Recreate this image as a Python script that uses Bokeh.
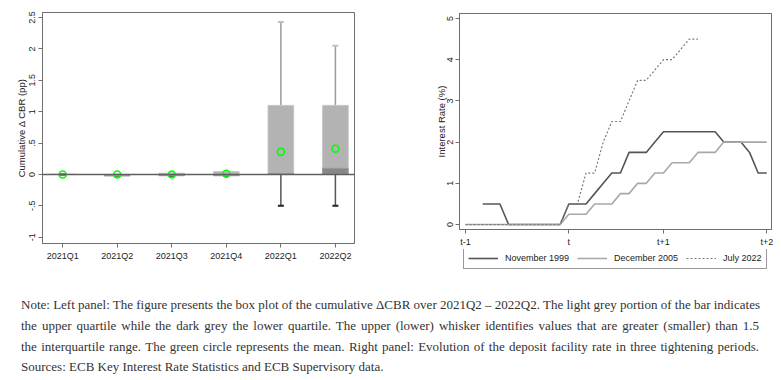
from bokeh.plotting import figure
from bokeh.models import Range1d, FixedTicker, Legend, LegendItem, Div, ColumnDataSource, Span
from bokeh.layouts import column, row
from bokeh.embed import file_html
from bokeh.resources import INLINE

# ---------------- Left panel data (box plot of cumulative delta CBR) ----------------
categories = ["2021Q1", "2021Q2", "2021Q3", "2021Q4", "2022Q1", "2022Q2"]
q1 = [0.0, -0.02, -0.02, -0.02, 0.0, 0.0]
median = [0.0, -0.02, 0.0, 0.0, 0.015, 0.10]
q3 = [0.0, 0.0, 0.02, 0.045, 1.10, 1.10]
lower_whisker = [0.0, -0.02, -0.02, -0.02, -0.50, -0.50]
upper_whisker = [0.0, 0.0, 0.02, 0.045, 2.43, 2.05]
mean = [0.0, 0.0, 0.0, 0.01, 0.36, 0.41]
left_y_ticks = [-1, -0.5, 0, 0.5, 1, 1.5, 2, 2.5]
left_y_labels = ["-1", "-.5", "0", ".5", "1", "1.5", "2", "2.5"]

# ---------------- Right panel data (deposit facility rate, change in pp) ----------------
nov1999_month = list(range(2, 36))
nov1999 = [0.5, 0.5, 0.5, 0, 0, 0, 0, 0, 0, 0, 0.5, 0.5, 0.5, 0.75, 1.0, 1.25, 1.25,
           1.75, 1.75, 1.75, 2.0, 2.25, 2.25, 2.25, 2.25, 2.25, 2.25, 2.25, 2.0, 2.0, 2.0,
           1.75, 1.25, 1.25]
dec2005_month = list(range(0, 36))
dec2005 = [0] * 12 + [0.25, 0.25, 0.25, 0.5, 0.5, 0.5, 0.75, 0.75, 1.0, 1.0, 1.25, 1.25,
                      1.5, 1.5, 1.5, 1.75, 1.75, 1.75, 2.0, 2.0, 2.0, 2.0, 2.0, 2.0]
jul2022_month = list(range(0, 28))
jul2022 = [0] * 12 + [0.5, 0.5, 1.25, 1.25, 2.0, 2.5, 2.5, 3.0, 3.5, 3.5, 3.75, 4.0, 4.0,
                      4.25, 4.5, 4.5]
right_x_ticks = [0, 12, 23, 35]
right_x_labels = ["t-1", "t", "t+1", "t+2"]
right_y_ticks = [0, 1, 2, 3, 4, 5]
right_y_labels = ["0", "1", "2", "3", "4", "5"]
series_names = ["November 1999", "December 2005", "July 2022"]
series_colors = ["#555555", "#a8a8a8", "#7a7a7a"]
series_widths = [1.6, 1.6, 1.2]
series_dash = ["solid", "solid", "2 2"]

FONT = "Liberation Sans"
AX = "#6e6e6e"
TXT = "#222222"


def style(p):
    for ax in (p.xaxis[0], p.yaxis[0]):
        ax.axis_line_color = AX
        ax.major_tick_line_color = AX
        ax.major_tick_out = 4
        ax.major_tick_in = 0
        ax.minor_tick_line_color = None
        ax.major_label_text_font = FONT
        ax.major_label_text_font_size = "9px"
        ax.major_label_text_color = TXT
        ax.axis_label_text_font = FONT
        ax.axis_label_text_font_size = "9.5px"
        ax.axis_label_text_font_style = "normal"
        ax.axis_label_text_color = TXT
        ax.major_label_standoff = 3
        ax.axis_label_standoff = 0
    p.xgrid.visible = False
    p.ygrid.visible = False
    p.outline_line_color = AX
    p.outline_line_width = 1


# ---------------- Left figure ----------------
x_pos = list(range(1, len(categories) + 1))
src = ColumnDataSource(dict(x=x_pos, q1=q1, med=median, q3=q3, lw=lower_whisker,
                            uw=upper_whisker, mean=mean))
left = figure(frame_width=312, frame_height=231,
              x_range=Range1d(0.63, 6.35), y_range=Range1d(-1.1, 2.58),
              output_backend="svg", toolbar_location=None,
              min_border_left=42, min_border_right=36, min_border_top=12, min_border_bottom=37)
left.add_layout(Span(location=0, dimension="width", line_color="#5f5f5f", line_width=1.5))
left.segment(x0="x", y0="q3", x1="x", y1="uw", source=src, line_color="#9c9c9c", line_width=1.5)
left.segment(x0="x", y0="q1", x1="x", y1="lw", source=src, line_color="#555555", line_width=1.5)
left.scatter(x="x", y="uw", source=src, marker="dash", size=6, line_color="#c0c0c0", line_width=2)
left.scatter(x="x", y="lw", source=src, marker="dash", size=6, line_color="#222222", line_width=2)
left.vbar(x="x", width=0.47, bottom="med", top="q3", source=src, fill_color="#b3b3b3",
          line_color="#c6c6c6", line_width=1)
left.vbar(x="x", width=0.47, bottom="q1", top="med", source=src, fill_color="#878787",
          line_color="#9a9a9a", line_width=1)
left.scatter(x="x", y="mean", source=src, marker="circle", size=7, fill_color=None,
             line_color="#00ff00", line_width=1.6)
style(left)
left.yaxis.ticker = FixedTicker(ticks=left_y_ticks)
left.yaxis.major_label_overrides = dict(zip(left_y_ticks, left_y_labels))
left.yaxis.major_label_orientation = "vertical"
left.yaxis.axis_label = "Cumulative Δ CBR (pp)"
left.xaxis.ticker = FixedTicker(ticks=x_pos)
left.xaxis.major_label_overrides = dict(zip(x_pos, categories))

# ---------------- Right figure ----------------
right = figure(frame_width=312, frame_height=216,
               x_range=Range1d(-0.7, 35.55), y_range=Range1d(-0.12, 5.12),
               output_backend="svg", toolbar_location=None,
               min_border_left=69, min_border_right=10, min_border_top=13, min_border_bottom=20)
series = [(nov1999_month, nov1999), (dec2005_month, dec2005), (jul2022_month, jul2022)]
for (xs, ys), c, w, d in zip(series, series_colors, series_widths, series_dash):
    right.line(xs, ys, line_color=c, line_width=w, line_dash=d)
style(right)
right.yaxis.ticker = FixedTicker(ticks=right_y_ticks)
right.yaxis.major_label_overrides = dict(zip(right_y_ticks, right_y_labels))
right.yaxis.major_label_orientation = "vertical"
right.yaxis.major_label_standoff = 2
right.yaxis.axis_label_standoff = -2
right.yaxis.axis_label = "Interest Rate (%)"
right.xaxis.ticker = FixedTicker(ticks=right_x_ticks)
right.xaxis.major_label_overrides = dict(zip(right_x_ticks, right_x_labels))

# ---------------- Legend strip below the right panel ----------------
# (series are drawn again here only to give the legend its glyph styles;
#  the y range keeps them out of view)
leg_fig = figure(width=391, height=31, x_range=right.x_range, y_range=Range1d(-3, -2),
                 x_axis_type=None, y_axis_type=None, output_backend="svg",
                 toolbar_location=None, min_border=0, outline_line_color=None)
leg_fig.grid.visible = False
leg_renderers = [leg_fig.line(xs, ys, line_color=c, line_width=w, line_dash=d)
                 for (xs, ys), c, w, d in zip(series, series_colors, series_widths, series_dash)]
legend = Legend(items=[LegendItem(label=n, renderers=[r]) for n, r in zip(series_names, leg_renderers)],
                orientation="horizontal", location=(4, 11),
                label_text_font=FONT, label_text_font_size="9px", label_text_color=TXT,
                glyph_width=30, glyph_height=12, label_height=12, label_standoff=7,
                spacing=8, padding=4, margin=0,
                border_line_color="#333333", border_line_width=1,
                background_fill_color="white", background_fill_alpha=1)
leg_fig.add_layout(legend)

# ---------------- Note ----------------
note_lines = [
    "Note: Left panel: The figure presents the box plot of the cumulative ΔCBR over 2021Q2 – 2022Q2. The light grey portion of the bar indicates",
    "the upper quartile while the dark grey the lower quartile. The upper (lower) whisker identifies values that are greater (smaller) than 1.5",
    "the interquartile range. The green circle represents the mean. Right panel: Evolution of the deposit facility rate in three tightening periods.",
    "Sources: ECB Key Interest Rate Statistics and ECB Supervisory data.",
]
blocks = []
for i, ln in enumerate(note_lines):
    if i < len(note_lines) - 1:
        blocks.append('<div style="text-align:justify;text-align-last:justify;white-space:nowrap;">%s</div>' % ln)
    else:
        blocks.append('<div style="white-space:nowrap;">%s</div>' % ln)
note_html = ('<div style="font-family:\'Liberation Serif\';font-size:13px;color:#333333;'
             'line-height:20.8px;margin-left:16px;width:738px;padding-top:10px;">'
             + "".join(blocks) + "</div>")
note = Div(text=note_html, width=781, height=100)

layout = column(row(left, column(right, leg_fig)), note)
open("out.html", "w").write(file_html(layout, INLINE))
